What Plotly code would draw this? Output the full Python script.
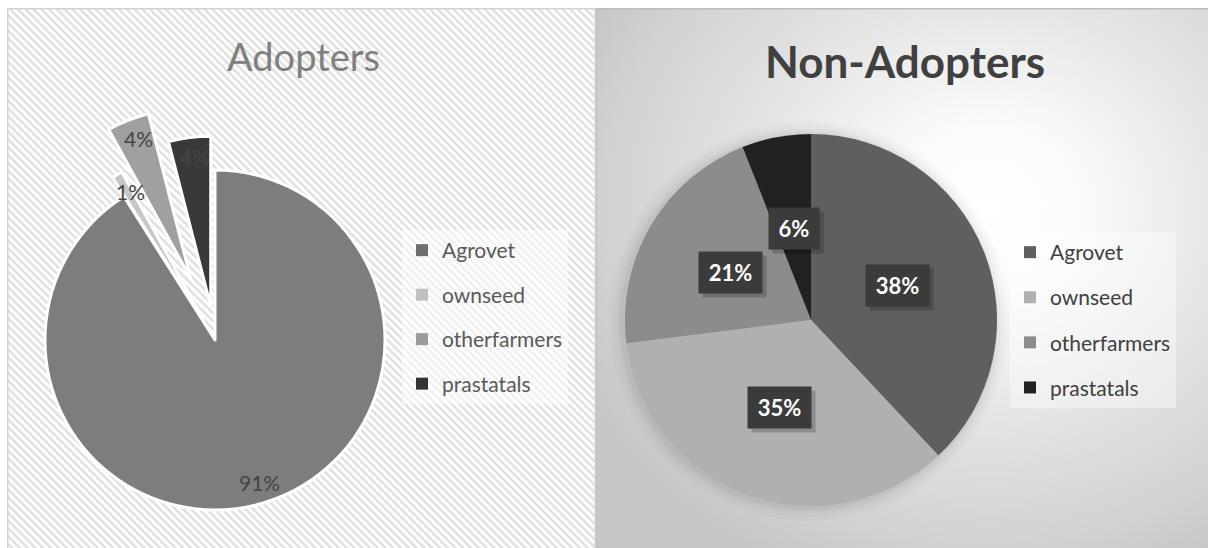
import math
import base64
import plotly.graph_objects as go

# ---------------- data ----------------
categories = ["Agrovet", "ownseed", "otherfarmers", "prastatals"]
adopters = [91, 1, 4, 4]
non_adopters = [38, 35, 21, 6]
titles = ["Adopters", "Non-Adopters"]

# ---------------- style ----------------
W, H = 1208, 548
FONT = "Lato"
adopt_colors = ["#7d7d7d", "#c6c6c6", "#a0a0a0", "#393939"]
adopt_legend_colors = ["#6e6e6e", "#c0c0c0", "#9c9c9c", "#333333"]
non_colors = ["#5f5f5f", "#b0b0b0", "#8c8c8c", "#212121"]
adopt_pull = [0.0, 0.13, 0.39, 0.2]   # explosion as a fraction of radius

L_CX, L_CY, L_R = 215, 340, 170     # left pie centre / radius (px)
R_CX, R_CY, R_R = 811, 320, 186     # right pie centre / radius (px)


def dom(cx, cy, r):
    return dict(x=[(cx - r) / W, (cx + r) / W], y=[1 - (cy + r) / H, 1 - (cy - r) / H])


def mid_angles(vals):
    tot = sum(vals)
    acc = 0
    out = []
    for v in vals:
        out.append((acc + v / 2) / tot * 2 * math.pi)
        acc += v
    return out


def svg_uri(svg):
    return "data:image/svg+xml;base64," + base64.b64encode(svg.encode()).decode()


def ann(text, px, py, **kw):
    d = dict(text=text, x=px / W, y=1 - py / H, xref="paper", yref="paper", showarrow=False,
             xanchor="center", yanchor="middle")
    d.update(kw)
    return d


fig = go.Figure()

# ---------------- backgrounds ----------------
LW, LH = 589, 540
left_svg = f"""<svg xmlns='http://www.w3.org/2000/svg' width='{LW}' height='{LH}' viewBox='0 0 {LW} {LH}' preserveAspectRatio='none'>
<defs><pattern id='h' width='5.5' height='5.5' patternUnits='userSpaceOnUse' patternTransform='rotate(-45)'>
<rect width='5.5' height='5.5' fill='#ffffff'/><rect width='2.6' height='5.5' fill='#e1e1e1'/></pattern></defs>
<rect x='0' y='0' width='{LW}' height='{LH}' fill='url(#h)'/>
<rect x='0.75' y='0.75' width='{LW-1.5}' height='{LH+5}' fill='none' stroke='#d4d4d4' stroke-width='1.5'/>
</svg>"""
RW, RH = 612, 540
right_svg = f"""<svg xmlns='http://www.w3.org/2000/svg' width='{RW}' height='{RH}' viewBox='0 0 {RW} {RH}' preserveAspectRatio='none'>
<defs><radialGradient id='g' cx='0.64' cy='0.37' r='0.74' fx='0.64' fy='0.37'>
<stop offset='0' stop-color='#ffffff'/><stop offset='0.2' stop-color='#fbfbfb'/>
<stop offset='0.55' stop-color='#e3e3e3'/><stop offset='0.85' stop-color='#d1d1d1'/>
<stop offset='1' stop-color='#c6c6c6'/></radialGradient></defs>
<rect x='0' y='0' width='{RW}' height='{RH}' fill='url(#g)'/>
<line x1='0' y1='0.75' x2='{RW}' y2='0.75' stroke='#bdbdbd' stroke-width='1.5'/>
<line x1='0.5' y1='0' x2='0.5' y2='{RH}' stroke='#bdbdbd' stroke-width='1'/>
</svg>"""

images = [
    dict(source=svg_uri(left_svg), xref="paper", yref="paper", x=7 / W, y=1 - 8 / H,
         sizex=LW / W, sizey=LH / H, xanchor="left", yanchor="top", sizing="stretch", layer="below"),
    dict(source=svg_uri(right_svg), xref="paper", yref="paper", x=596 / W, y=1 - 8 / H,
         sizex=RW / W, sizey=RH / H, xanchor="left", yanchor="top", sizing="stretch", layer="below"),
]

annotations = []

# ---------------- left pie (exploded slices) ----------------
l_mids = mid_angles(adopters)
for i, cat in enumerate(categories):
    shift = adopt_pull[i] * L_R
    cx = L_CX + shift * math.sin(l_mids[i])
    cy = L_CY - shift * math.cos(l_mids[i])
    cols = [adopt_colors[j] if j == i else "rgba(0,0,0,0)" for j in range(len(categories))]
    lw = [3 if j == i else 0 for j in range(len(categories))]
    fig.add_trace(go.Pie(
        labels=categories, values=adopters, sort=False, direction="clockwise", rotation=0,
        marker=dict(colors=cols, line=dict(color="#ffffff", width=lw)),
        textinfo="none", hoverinfo="skip", showlegend=False, domain=dom(cx, cy, L_R),
    ))
    lx = cx + 0.88 * L_R * math.sin(l_mids[i])
    ly = cy - 0.88 * L_R * math.cos(l_mids[i])
    annotations.append(ann(f"{adopters[i]}%", lx + 3, ly - 1,
                           font=dict(family=FONT, size=21, color="#454545")))

# ---------------- right pie ----------------
for k, a in [(14, 0.015), (10, 0.02), (6, 0.028), (3, 0.035)]:
    fig.add_trace(go.Pie(
        labels=categories, values=non_adopters, sort=False, direction="clockwise", rotation=0,
        marker=dict(colors=[f"rgba(0,0,0,{a})"] * 4, line=dict(width=0)),
        textinfo="none", hoverinfo="skip", showlegend=False, domain=dom(R_CX - 2, R_CY + 1, R_R + k),
    ))
fig.add_trace(go.Pie(
    labels=categories, values=non_adopters, sort=False, direction="clockwise", rotation=0,
    marker=dict(colors=non_colors, line=dict(width=0)),
    textinfo="none", hoverinfo="skip", showlegend=False, domain=dom(R_CX, R_CY, R_R),
))
r_mids = mid_angles(non_adopters)
for i, v in enumerate(non_adopters):
    lx = R_CX + 0.5 * R_R * math.sin(r_mids[i])
    ly = R_CY - 0.5 * R_R * math.cos(r_mids[i])
    txt = f"{v}%"
    bw = 24 + 13 * len(txt)
    annotations.append(ann(" ", lx + 4, ly + 4, width=bw, height=41, borderpad=0,
                           bgcolor="rgba(0,0,0,0.2)", font=dict(size=10)))
    annotations.append(ann(txt, lx, ly, width=bw, height=41, borderpad=0, bgcolor="#3b3b3b",
                           font=dict(family=FONT, size=22, color="#ffffff", weight="bold")))

# ---------------- legends (legend-only entries) ----------------
for i, cat in enumerate(categories):
    fig.add_trace(go.Scatter(x=[None], y=[None], mode="markers", name=cat, legend="legend",
                             legendgroup=f"a{i}", hoverinfo="skip",
                             marker=dict(symbol="square", size=10, color=adopt_legend_colors[i])))
for i, cat in enumerate(categories):
    fig.add_trace(go.Scatter(x=[None], y=[None], mode="markers", name=cat, legend="legend2",
                             legendgroup=f"n{i}", hoverinfo="skip",
                             marker=dict(symbol="square", size=14, color=non_colors[i])))

# ---------------- titles ----------------
annotations.append(ann(titles[0], 303, 56, font=dict(family=FONT, size=38, color="#7f7f7f")))
annotations.append(ann(titles[1], 905, 61, font=dict(family=FONT, size=44, color="#404040", weight="bold")))

fig.update_layout(
    width=W, height=H, margin=dict(l=0, r=0, t=0, b=0),
    paper_bgcolor="#ffffff", plot_bgcolor="rgba(0,0,0,0)",
    xaxis=dict(visible=False), yaxis=dict(visible=False),
    images=images, annotations=annotations,
    legend=dict(x=402 / W, y=1 - 230 / H, xanchor="left", yanchor="top", traceorder="grouped",
                tracegroupgap=14.2, itemsizing="constant", bgcolor="rgba(255,255,255,0.55)",
                font=dict(family=FONT, size=21, color="#595959")),
    legend2=dict(x=1010 / W, y=1 - 232 / H, xanchor="left", yanchor="top", traceorder="grouped",
                 tracegroupgap=14.8, itemsizing="constant", bgcolor="rgba(255,255,255,0.4)",
                 font=dict(family=FONT, size=21, color="#404040")),
)

fig.write_html("out.html")
